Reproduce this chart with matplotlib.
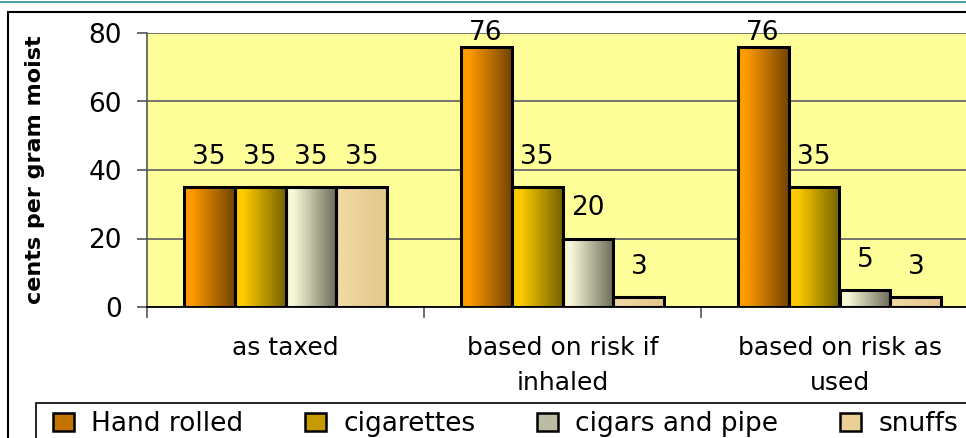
import matplotlib
matplotlib.use('Agg')
import matplotlib.pyplot as plt
import numpy as np
from matplotlib.colors import LinearSegmentedColormap
from matplotlib.patches import Rectangle, Patch
from matplotlib.lines import Line2D

# data
categories = ['as taxed', 'based on risk if\ninhaled', 'based on risk as\nused']
series_names = ['Hand rolled', 'cigarettes', 'cigars and pipe', 'snuffs']
hand_rolled = [35, 76, 76]
cigarettes = [35, 35, 35]
cigars_and_pipe = [35, 20, 5]
snuffs = [35, 3, 3]
y_ticks = [0, 20, 40, 60, 80]

series_values = [hand_rolled, cigarettes, cigars_and_pipe, snuffs]
# gradient (left -> right) for each series
grad_colors = [('#ff9a00', '#744400'),
               ('#ffcc00', '#756300'),
               ('#f8f8d8', '#6c6c58'),
               ('#f0d8a2', '#e3c68c')]
mid_colors = ['#c47200', '#c49c00', '#bcbca4', '#ead096']

W, H = 966, 438
fig = plt.figure(figsize=(W / 100, H / 100), dpi=100)
fig.patch.set_facecolor('white')

# axes extends beyond the right edge, like the clipped original
ax = fig.add_axes([147 / W, 1 - 307 / H, (978 - 147) / W, (307 - 33) / H])
ax.set_facecolor('#ffff99')

n = len(series_names)
bw = 0.184
x = np.arange(len(categories))
for i, (vals, (c0, c1)) in enumerate(zip(series_values, grad_colors)):
    cmap = LinearSegmentedColormap.from_list('g%d' % i, [(0, c0), (0.15, c0), (1, c1)])
    xs = x + (i - (n - 1) / 2) * bw
    bars = ax.bar(xs, vals, width=bw, facecolor='none', edgecolor='black',
                  linewidth=2.2, zorder=4)
    grad = np.linspace(0, 1, 64).reshape(1, -1)
    for b in bars:
        bx, by = b.get_x(), b.get_y()
        im = ax.imshow(grad, extent=[bx, bx + b.get_width(), by, by + b.get_height()],
                       cmap=cmap, aspect='auto', zorder=3, interpolation='bilinear')
        im.set_clip_path(b)
    for xi, v in zip(xs, vals):
        ax.text(xi, min(v + 8.8, 80), str(v), ha='center', va='center',
                fontsize=19, zorder=5)

ax.set_xlim(-0.5, len(categories) - 0.5)
ax.set_ylim(0, 80)
ax.set_yticks(y_ticks)
ax.tick_params(axis='y', labelsize=19, length=7, width=1.2, pad=11, color='#555555')
ax.yaxis.grid(True, color='#6a6a6a', linewidth=1.3)
ax.set_axisbelow(True)

# category labels between dividing ticks
ax.set_xticks(np.arange(-0.5, len(categories)), minor=False)
ax.set_xticklabels([])
ax.set_xticks(x, minor=True)
ax.set_xticklabels(categories, minor=True, fontsize=18, linespacing=1.55)
ax.tick_params(axis='x', which='major', length=8, width=1.2, color='#555555')
ax.tick_params(axis='x', which='minor', length=0, pad=21)

ax.spines['top'].set_visible(False)
ax.spines['right'].set_visible(False)
ax.spines['left'].set_color('#555555')
ax.spines['left'].set_linewidth(1.2)
ax.spines['bottom'].set_color('black')
ax.spines['bottom'].set_linewidth(1.3)

ax.set_ylabel('cents per gram moist', fontsize=16, fontweight='bold')
ax.yaxis.set_label_coords((45 - 147) / (978 - 147), 0.5)

# legend (frame drawn separately so it runs off the edge like the original)
handles = [Patch(facecolor=c, edgecolor='black', linewidth=1.8) for c in mid_colors]
fig.legend(handles, series_names, ncol=4, loc='upper left',
           bbox_to_anchor=(53 / W, -0.2, (958 - 53) / W, 0.2 + (1 - 411 / H)),
           mode='expand', borderaxespad=0, fontsize=19, frameon=False,
           handlelength=0.8, handleheight=0.7, handletextpad=0.65, borderpad=0)
fig.add_artist(Rectangle((36 / W, -0.1), 2, 0.1 + (1 - 403 / H), transform=fig.transFigure,
                         fill=False, edgecolor='black', linewidth=1.2))

# chart area border
fig.add_artist(Rectangle((8 / W, -0.1), 2, 1.1 - 12 / H, transform=fig.transFigure,
                         fill=False, edgecolor='black', linewidth=1.5))
fig.add_artist(Line2D([0, 1], [1 - 1.5 / H] * 2, transform=fig.transFigure,
                      color='#2f8f8f', linewidth=1.2))

fig.savefig('out.png', dpi=100)
